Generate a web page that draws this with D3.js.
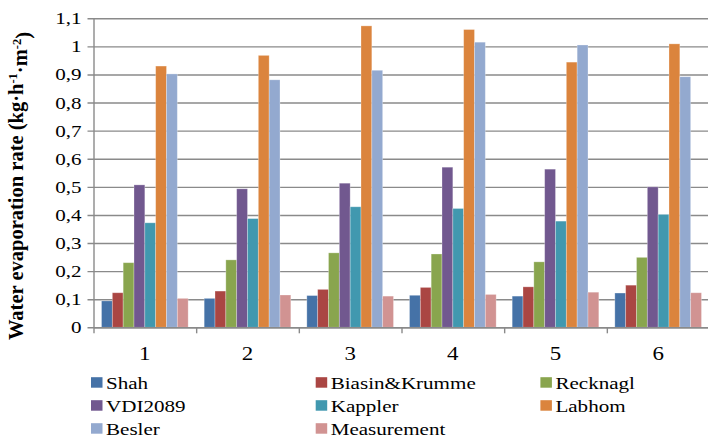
<!DOCTYPE html>
<html>
<head>
<meta charset="utf-8">
<script src="https://cdn.jsdelivr.net/npm/d3@7"></script>
<style>
    html, body { margin: 0; padding: 0; background: #fff; }
    svg { display: block; }
    svg text { font-family: "Liberation Serif", "Times New Roman", Times, serif !important; }
</style>
</head>
<body>
<div id="chart"></div>
<script>
'use strict';

// chart data
var categories = ['1', '2', '3', '4', '5', '6'];
var seriesNames = ['Shah', 'Biasin&Krumme', 'Recknagl', 'VDI2089', 'Kappler', 'Labhom', 'Besler', 'Measurement'];
var shah        = [0.094, 0.103, 0.113, 0.114, 0.111, 0.122];
var biasin      = [0.123, 0.129, 0.135, 0.142, 0.144, 0.150];
var recknagl    = [0.230, 0.240, 0.265, 0.261, 0.233, 0.249];
var vdi2089     = [0.507, 0.493, 0.513, 0.570, 0.563, 0.500];
var kappler     = [0.372, 0.387, 0.429, 0.423, 0.378, 0.402];
var labhom      = [0.930, 0.968, 1.073, 1.060, 0.944, 1.009];
var besler      = [0.902, 0.881, 0.915, 1.015, 1.005, 0.892];
var measurement = [0.103, 0.115, 0.111, 0.117, 0.125, 0.123];
var yTicks = [0, 0.1, 0.2, 0.3, 0.4, 0.5, 0.6, 0.7, 0.8, 0.9, 1, 1.1];

var seriesValues = [shah, biasin, recknagl, vdi2089, kappler, labhom, besler, measurement];
var colors = ['#4572A7', '#AA4643', '#89A54E', '#71588F', '#4198AF', '#DB843D', '#93A9CF', '#D19392'];

var moduleEvaporationChart = (function() {

    var width = 708,
        height = 438;

    var left = 93.5,
        right = 709.5,
        top = 18.3,
        bottom = 327.3;

    var stretch = 1.24; // text in the picture is a bit wide
    var axisColor = '#8a8a8a';
    var serif = '"Liberation Serif", "Times New Roman", serif';

    var svg = d3.select('#chart').append('svg')
        .attr('width', width)
        .attr('height', height);

    var comma = d3.formatLocale({decimal: ',', thousands: '.', grouping: [3], currency: ['', '']}).format('~g');

    var y = d3.scaleLinear().domain([0, 1.1]).range([bottom, top]);

    var x0 = d3.scaleBand()
        .domain(categories)
        .range([left, right])
        .paddingInner(0.156)
        .paddingOuter(0.078);

    var x1 = d3.scaleBand()
        .domain(seriesNames)
        .range([0, x0.bandwidth()])
        .padding(0);

    var init = function() {
        // gridlines + left axis
        var yAxis = svg.append('g')
            .attr('transform', 'translate(' + left + ',0)')
            .call(d3.axisLeft(y).tickValues(yTicks).tickFormat(comma).tickSizeInner(-(right - left)).tickSizeOuter(0).tickPadding(12));

        yAxis.attr('font-family', null);
        yAxis.select('.domain').attr('stroke', axisColor).attr('stroke-width', 1.4);
        yAxis.selectAll('.tick line')
            .attr('x1', -6)
            .attr('stroke', axisColor)
            .attr('stroke-width', 1.4);
        yAxis.selectAll('.tick text')
            .attr('fill', '#000')
            .style('font-family', serif)
            .style('font-size', '17px')
            .attr('x', -12 / stretch)
            .attr('transform', 'scale(' + stretch + ',1)');

        // bars
        var groups = svg.append('g').selectAll('g')
            .data(categories)
            .enter()
            .append('g')
            .attr('transform', function(d) { return 'translate(' + x0(d) + ',0)'; });

        groups.selectAll('rect')
            .data(function(d, ci) {
                return seriesNames.map(function(name, si) {
                    return {name: name, value: seriesValues[si][ci], color: colors[si]};
                });
            })
            .enter()
            .append('rect')
            .attr('x', function(d) { return x1(d.name); })
            .attr('width', x1.bandwidth())
            .attr('y', function(d) { return y(d.value); })
            .attr('height', function(d) { return y(0) - y(d.value); })
            .attr('fill', function(d) { return d.color; })
            .attr('stroke', 'rgba(255,255,255,0.35)')
            .attr('stroke-width', 0.8);

        // bottom axis, ticks sit between categories
        var bounds = d3.scaleLinear().domain([0, categories.length]).range([left, left + x0.step() * categories.length]);
        var xAxis = svg.append('g')
            .attr('transform', 'translate(0,' + bottom + ')')
            .call(d3.axisBottom(bounds).ticks(categories.length).tickFormat('').tickSizeInner(6).tickSizeOuter(0));
        xAxis.select('.domain').attr('stroke', axisColor).attr('stroke-width', 1.4);
        xAxis.selectAll('.tick line').attr('stroke', axisColor).attr('stroke-width', 1.4);

        svg.append('g').selectAll('text')
            .data(categories)
            .enter()
            .append('text')
            .attr('transform', function(d) {
                return 'translate(' + (x0(d) + x0.bandwidth() / 2) + ',359.5) scale(' + stretch + ',1)';
            })
            .attr('text-anchor', 'middle')
            .style('font-family', serif)
            .style('font-size', '18.5px')
            .text(function(d) { return d; });

        // y title
        var title = svg.append('text')
            .attr('transform', 'translate(23,186) rotate(-90)')
            .attr('text-anchor', 'middle')
            .style('font-family', serif)
            .style('font-size', '20.5px')
            .style('font-weight', 'bold');
        title.append('tspan').text('Water evaporation rate (kg\u00b7h');
        title.append('tspan').attr('dy', '-0.45em').style('font-size', '12.5px').text('-1');
        title.append('tspan').attr('dy', '0.45em').text('\u00b7m');
        title.append('tspan').attr('dy', '-0.45em').style('font-size', '12.5px').text('-2');
        title.append('tspan').attr('dy', '0.45em').text(')');

        // legend, 3 columns
        var legend = svg.append('g').selectAll('g')
            .data(seriesNames)
            .enter()
            .append('g')
            .attr('transform', function(d, i) {
                return 'translate(' + (91 + (i % 3) * 224.7) + ',' + (389 + Math.floor(i / 3) * 23) + ')';
            });

        legend.append('rect')
            .attr('x', 0)
            .attr('y', -11.8)
            .attr('width', 11.5)
            .attr('height', 10.5)
            .attr('fill', function(d, i) { return colors[i]; });

        legend.append('text')
            .attr('transform', 'translate(15,0) scale(' + stretch + ',1)')
            .style('font-family', serif)
            .style('font-size', '17px')
            .text(function(d) { return d; });
    };

    return {
        init: init
    };
})();

moduleEvaporationChart.init();
</script>
</body>
</html>
